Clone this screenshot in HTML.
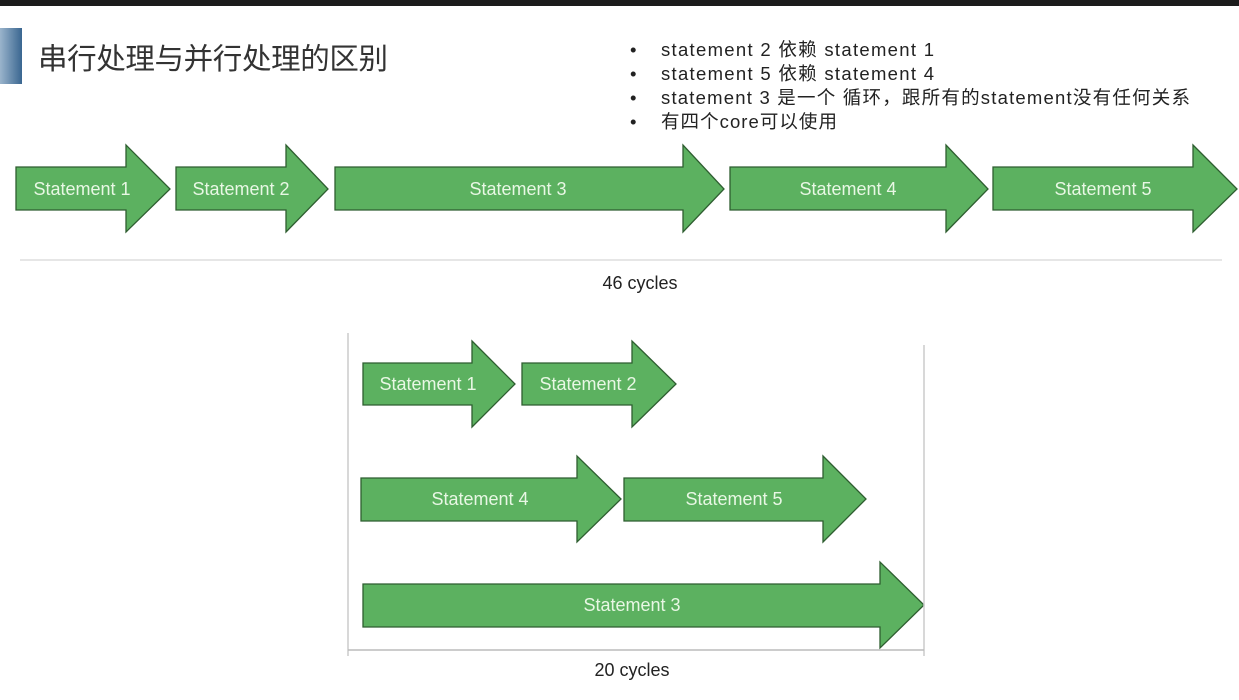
<!DOCTYPE html>
<html><head><meta charset="utf-8"><style>
body{margin:0;width:1239px;height:700px;overflow:hidden;background:#fff;font-family:"Liberation Sans","Noto Sans CJK SC",sans-serif}
</style></head><body>
<svg width="1239" height="700" xmlns="http://www.w3.org/2000/svg" style="position:absolute;left:0;top:0">
<defs><linearGradient id="g" x1="0" x2="1"><stop offset="0" stop-color="#9ab4cc"/><stop offset="1" stop-color="#3a6690"/></linearGradient></defs>
<rect x="0" y="0" width="1239" height="6" fill="#1c1c1c"/>
<rect x="0" y="28" width="22" height="56" fill="url(#g)"/>
<text x="38" y="69" font-size="29.5" fill="#333" textLength="350" font-family="Liberation Sans,Noto Sans CJK SC,sans-serif">串行处理与并行处理的区别</text>
<g font-size="18.5" fill="#222" font-family="Liberation Sans,Noto Sans CJK SC,sans-serif">
<text x="630" y="56">•</text><text x="661" y="56" textLength="273">statement 2 依赖 statement 1</text>
<text x="630" y="80">•</text><text x="661" y="80" textLength="273">statement 5 依赖 statement 4</text>
<text x="630" y="104">•</text><text x="661" y="104" textLength="529">statement 3 是一个 循环，跟所有的statement没有任何关系</text>
<text x="630" y="128">•</text><text x="661" y="128" textLength="176">有四个core可以使用</text>
</g>
<g fill="#5cb160" stroke="#2e5e30" stroke-width="1.3">
<polygon points="16,167 126,167 126,145 170,189 126,232 126,210 16,210"/>
<polygon points="176,167 286,167 286,145 328,189 286,232 286,210 176,210"/>
<polygon points="335,167 683,167 683,145 724,189 683,232 683,210 335,210"/>
<polygon points="730,167 946,167 946,145 988,189 946,232 946,210 730,210"/>
<polygon points="993,167 1193,167 1193,145 1237,189 1193,232 1193,210 993,210"/>
<polygon points="363,363 472,363 472,341 515,384 472,427 472,405 363,405"/>
<polygon points="522,363 632,363 632,341 676,384 632,427 632,405 522,405"/>
<polygon points="361,478 577,478 577,456 621,499 577,542 577,521 361,521"/>
<polygon points="624,478 823,478 823,456 866,499 823,542 823,521 624,521"/>
<polygon points="363,584 880,584 880,562 924,605 880,648 880,627 363,627"/>
</g>
<g font-size="18" fill="#e8f7e4" text-anchor="middle">
<text x="82" y="195">Statement 1</text>
<text x="241" y="195">Statement 2</text>
<text x="518" y="195">Statement 3</text>
<text x="848" y="195">Statement 4</text>
<text x="1103" y="195">Statement 5</text>
<text x="428" y="390">Statement 1</text>
<text x="588" y="390">Statement 2</text>
<text x="480" y="505">Statement 4</text>
<text x="734" y="505">Statement 5</text>
<text x="632" y="611">Statement 3</text>
</g>
<line x1="20" y1="260" x2="1222" y2="260" stroke="#ddd" stroke-width="1.5"/>
<line x1="348" y1="333" x2="348" y2="656" stroke="#ccc" stroke-width="1.5"/>
<line x1="924" y1="345" x2="924" y2="656" stroke="#ccc" stroke-width="1.5"/>
<line x1="348" y1="650" x2="924" y2="650" stroke="#bbb" stroke-width="1.5"/>
<g font-size="18" fill="#222" text-anchor="middle">
<text x="640" y="289">46 cycles</text>
<text x="632" y="676">20 cycles</text>
</g>
</svg>
</body></html>
